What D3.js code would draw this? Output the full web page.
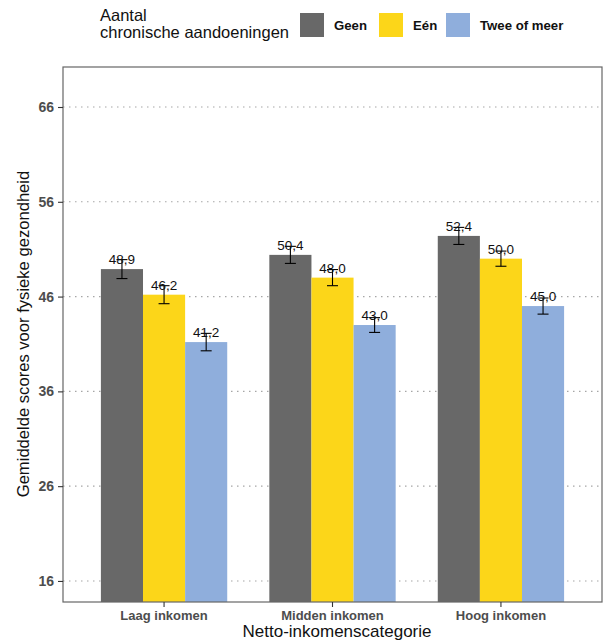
<!DOCTYPE html>
<html><head><meta charset="utf-8">
<script src="https://cdn.jsdelivr.net/npm/d3@7"></script>
<style>body{margin:0;background:#fff;} svg{display:block;font-family:"Liberation Sans",Arial,sans-serif;}</style>
</head><body>
<script>
const categories = ["Laag inkomen", "Midden inkomen", "Hoog inkomen"];
const seriesNames = ["Geen", "Eén", "Twee of meer"];
const colors = ["#686868", "#FCD619", "#8FAEDC"];
const geen = [48.9, 50.4, 52.4];
const een = [46.2, 48.0, 50.0];
const tweeOfMeer = [41.2, 43.0, 45.0];
const errGeen = [1.0, 0.9, 0.9];
const errEen = [0.95, 0.85, 0.8];
const errTwee = [0.92, 0.78, 0.85];
const yTicks = [16, 26, 36, 46, 56, 66];

const seriesValues = [geen, een, tweeOfMeer];
const seriesErr = [errGeen, errEen, errTwee];

const W = 604, H = 643;
const P = {l: 63, r: 602, t: 67, b: 602};
const svg = d3.select("body").append("svg").attr("width", W).attr("height", H);

const x = d3.scaleBand().domain(categories).range([P.l, P.r]).paddingInner(0.25).paddingOuter(0.225);
const xs = d3.scaleBand().domain(seriesNames).range([0, x.bandwidth()]);
const y = d3.scaleLinear().domain([13.78, 70.22]).range([P.b, P.t]);

// grid
svg.append("g").selectAll("line").data(yTicks).join("line")
  .attr("x1", P.l).attr("x2", P.r).attr("y1", d => y(d)).attr("y2", d => y(d))
  .attr("stroke", "#a6a6a6").attr("stroke-width", 1.1).attr("stroke-dasharray", "1.5,4.5");

const data = [];
categories.forEach((c, i) => seriesNames.forEach((s, j) => data.push({c, s, j, v: seriesValues[j][i], e: seriesErr[j][i]})));

svg.append("clipPath").attr("id", "pc").append("rect").attr("x", P.l).attr("y", P.t).attr("width", P.r - P.l).attr("height", P.b - P.t);
const g = svg.append("g").attr("clip-path", "url(#pc)");
g.selectAll("rect.bar").data(data).join("rect").attr("class", "bar")
  .attr("x", d => x(d.c) + xs(d.s)).attr("width", xs.bandwidth())
  .attr("y", d => y(d.v)).attr("height", d => P.b + 5 - y(d.v))
  .attr("fill", d => colors[d.j]);

// error bars
const eb = svg.append("g").attr("stroke", "#000").attr("stroke-width", 1.1);
data.forEach(d => {
  const cx = x(d.c) + xs(d.s) + xs.bandwidth() / 2;
  eb.append("line").attr("x1", cx).attr("x2", cx).attr("y1", y(d.v + d.e)).attr("y2", y(d.v - d.e));
  eb.append("line").attr("x1", cx - 5.5).attr("x2", cx + 5.5).attr("y1", y(d.v + d.e)).attr("y2", y(d.v + d.e));
  eb.append("line").attr("x1", cx - 5.5).attr("x2", cx + 5.5).attr("y1", y(d.v - d.e)).attr("y2", y(d.v - d.e));
});

// value labels
svg.append("g").selectAll("text").data(data).join("text")
  .attr("x", d => x(d.c) + xs(d.s) + xs.bandwidth() / 2)
  .attr("y", d => y(d.v) - 5)
  .attr("text-anchor", "middle").attr("font-size", 13.5).attr("fill", "#111")
  .text(d => d.v.toFixed(1).replace(".", ","));

// panel border
svg.append("rect").attr("x", P.l).attr("y", P.t).attr("width", P.r - P.l).attr("height", P.b - P.t)
  .attr("fill", "none").attr("stroke", "#666").attr("stroke-width", 1.2);

// y axis
const yAxis = svg.append("g").attr("transform", `translate(${P.l},0)`)
  .call(d3.axisLeft(y).tickValues(yTicks).tickSize(5).tickPadding(4));
yAxis.select(".domain").remove();
yAxis.selectAll("line").attr("stroke", "#333").attr("stroke-width", 1.1);
yAxis.selectAll("text").attr("font-size", 14).attr("font-weight", "bold").attr("fill", "#4d4d4d").attr("font-family", null);

// x axis
const xAxis = svg.append("g").attr("transform", `translate(0,${P.b})`)
  .call(d3.axisBottom(x).tickSize(5).tickPadding(4));
xAxis.select(".domain").remove();
xAxis.selectAll("line").attr("stroke", "#333").attr("stroke-width", 1.1);
xAxis.selectAll("text").attr("font-size", 13).attr("font-weight", "bold").attr("fill", "#4d4d4d").attr("font-family", null);

// axis titles
svg.append("text").attr("x", 337).attr("y", 637).attr("text-anchor", "middle")
  .attr("font-size", 17).attr("fill", "#111").text("Netto-inkomenscategorie");
svg.append("text").attr("transform", `translate(29,${334}) rotate(-90)`).attr("text-anchor", "middle")
  .attr("font-size", 16.6).attr("fill", "#111").text("Gemiddelde scores voor fysieke gezondheid");

// legend
const lg = svg.append("g");
lg.append("text").attr("x", 100).attr("y", 21).attr("font-size", 16.5).attr("fill", "#111").text("Aantal");
lg.append("text").attr("x", 100).attr("y", 38).attr("font-size", 16.5).attr("fill", "#111").text("chronische aandoeningen");
const keyX = [300, 379, 446];
seriesNames.forEach((s, j) => {
  lg.append("rect").attr("x", keyX[j]).attr("y", 13).attr("width", 24).attr("height", 24).attr("fill", colors[j]);
  lg.append("text").attr("x", keyX[j] + 34).attr("y", 30).attr("font-size", 13.2).attr("font-weight", "bold").attr("fill", "#111").text(s);
});
</script>
</body></html>
